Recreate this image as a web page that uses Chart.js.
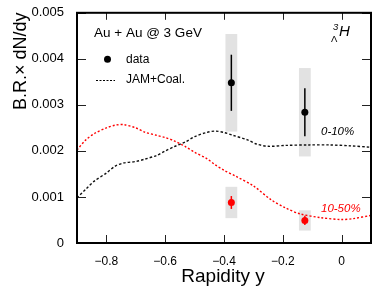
<!DOCTYPE html>
<html>
<head>
<meta charset="utf-8">
<script src="https://cdn.jsdelivr.net/npm/chart.js@4.4.1/dist/chart.umd.min.js"></script>
<style>
  html, body { margin: 0; padding: 0; background: #fff; }
  canvas { display: block; }
</style>
</head>
<body>
<canvas id="chart" width="382" height="297"></canvas>
<script>
const xTicks = [-0.8, -0.6, -0.4, -0.2, 0];
const yTicks = [0, 0.001, 0.002, 0.003, 0.004, 0.005];

// data points (two rapidity bins)
const dataY = [-0.375, -0.125];
const central = [0.00348, 0.00284];
const centralStat = [0.00061, 0.00052];
const centralSys = [0.00106, 0.00096];
const midCent = [0.00088, 0.00049];
const midStat = [0.00014, 0.0001];
const midSys = [0.00034, 0.00022];

// JAM+Coal. curves
const modelX0 = [-0.9, -0.87, -0.84, -0.8, -0.77, -0.74, -0.7, -0.67, -0.63, -0.6, -0.57, -0.53, -0.5,
  -0.46, -0.43, -0.4, -0.37, -0.32, -0.29, -0.25, -0.19, -0.11, -0.04, 0.03, 0.1];
const model0_10 = [0.00098, 0.00117, 0.00135, 0.00152, 0.00167, 0.00174, 0.00177, 0.00182, 0.0019, 0.002,
  0.00209, 0.0022, 0.00231, 0.0024, 0.00243, 0.0024, 0.00234, 0.00224, 0.00215, 0.0021, 0.00212, 0.00213,
  0.00213, 0.00211, 0.00208];
const modelX1 = [-0.9, -0.87, -0.84, -0.8, -0.77, -0.74, -0.7, -0.67, -0.63, -0.6, -0.57, -0.53, -0.5,
  -0.46, -0.43, -0.4, -0.36, -0.3, -0.24, -0.19, -0.14, -0.07, 0, 0.04, 0.1];
const model10_50 = [0.00202, 0.00224, 0.00238, 0.0025, 0.00256, 0.00257, 0.0025, 0.00241, 0.00234, 0.00229,
  0.00222, 0.00209, 0.00197, 0.00184, 0.0017, 0.00158, 0.00145, 0.00124, 0.00094, 0.00076, 0.00063, 0.00055,
  0.00051, 0.00053, 0.0006];

const FONT = "'Liberation Sans', Arial, Helvetica, sans-serif";
const pts = (xs, ys) => xs.map((x, i) => ({ x: x, y: ys[i] }));

const decor = {
  id: "decor",
  beforeDatasetsDraw(chart) {
    const { ctx, scales: { x, y } } = chart;
    ctx.save();
    // systematic boxes
    ctx.fillStyle = "#e2e2e2";
    const boxes = (vals, sys) => vals.forEach((v, i) => {
      const l = x.getPixelForValue(dataY[i] - 0.02), r = x.getPixelForValue(dataY[i] + 0.02);
      const t = y.getPixelForValue(v + sys[i]), b = y.getPixelForValue(v - sys[i]);
      ctx.fillRect(l, t, r - l, b - t);
    });
    boxes(central, centralSys);
    boxes(midCent, midSys);
    // stat error bars
    const bars = (vals, err, col) => {
      ctx.strokeStyle = col;
      ctx.lineWidth = 1.5;
      vals.forEach((v, i) => {
        const px = x.getPixelForValue(dataY[i]);
        ctx.beginPath();
        ctx.moveTo(px, y.getPixelForValue(v + err[i]));
        ctx.lineTo(px, y.getPixelForValue(v - err[i]));
        ctx.stroke();
      });
    };
    bars(central, centralStat, "#000");
    bars(midCent, midStat, "#f00");
    ctx.restore();
  },
  afterDraw(chart) {
    const { ctx, chartArea: a, scales: { x, y } } = chart;
    ctx.save();
    // ticks pointing inwards
    ctx.strokeStyle = "#222";
    ctx.lineWidth = 1;
    yTicks.forEach(v => {
      const py = Math.round(y.getPixelForValue(v)) + 0.5;
      ctx.beginPath();
      ctx.moveTo(a.left, py); ctx.lineTo(a.left + 9, py);
      ctx.moveTo(a.right, py); ctx.lineTo(a.right - 9, py);
      ctx.stroke();
    });
    xTicks.forEach(v => {
      const px = Math.round(x.getPixelForValue(v)) + 0.5;
      ctx.beginPath();
      ctx.moveTo(px, a.bottom); ctx.lineTo(px, a.bottom - 8);
      ctx.moveTo(px, a.top); ctx.lineTo(px, a.top + 7);
      ctx.stroke();
    });
    // frame
    ctx.strokeStyle = "#000";
    ctx.lineWidth = 2;
    ctx.strokeRect(a.left, a.top, a.right - a.left, a.bottom - a.top);

    // axis titles
    ctx.fillStyle = "#000";
    ctx.font = "19px " + FONT;
    ctx.textAlign = "center";
    ctx.textBaseline = "alphabetic";
    ctx.fillText("Rapidity y", 223, 282);
    ctx.save();
    ctx.translate(26, 110);
    ctx.rotate(-Math.PI / 2);
    ctx.textAlign = "left";
    ctx.font = "18px " + FONT;
    ctx.fillText("B.R.\u00d7 dN/dy", 0, 0);
    ctx.restore();

    // legend & labels
    ctx.textAlign = "left";
    ctx.font = "13.5px " + FONT;
    ctx.fillText("Au + Au @ 3 GeV", 94, 37);
    ctx.font = "12px " + FONT;
    ctx.fillText("data", 126, 63);
    ctx.fillText("JAM+Coal.", 126, 83);
    ctx.beginPath();
    ctx.arc(107.5, 59.3, 3.5, 0, Math.PI * 2);
    ctx.fill();
    ctx.setLineDash([2, 1.5]);
    ctx.lineWidth = 1;
    ctx.beginPath();
    ctx.moveTo(96, 80.5); ctx.lineTo(115, 80.5);
    ctx.stroke();
    ctx.setLineDash([]);

    ctx.font = "italic 11.5px " + FONT;
    ctx.fillText("0-10%", 321, 135);
    ctx.fillStyle = "#f00";
    ctx.fillText("10-50%", 321, 212);

    ctx.fillStyle = "#000";
    ctx.font = "italic 15px " + FONT;
    ctx.fillText("H", 339, 36);
    ctx.font = "italic 9.5px " + FONT;
    ctx.fillText("3", 333, 30);
    ctx.font = "9.5px " + FONT;
    ctx.fillText("\u039b", 331, 42);
    ctx.restore();
  }
};

new Chart(document.getElementById("chart"), {
  type: "scatter",
  data: {
    datasets: [
      {
        label: "0-10% model",
        data: pts(modelX0, model0_10),
        showLine: true,
        borderColor: "#111",
        borderWidth: 1.4,
        borderDash: [2.5, 2],
        pointRadius: 0,
        tension: 0.3
      },
      {
        label: "10-50% model",
        data: pts(modelX1, model10_50),
        showLine: true,
        borderColor: "#f00",
        borderWidth: 1.4,
        borderDash: [2, 2],
        pointRadius: 0,
        tension: 0.3
      },
      {
        label: "0-10% data",
        data: pts(dataY, central),
        backgroundColor: "#000",
        borderColor: "#000",
        pointRadius: 3.5,
        borderWidth: 0
      },
      {
        label: "10-50% data",
        data: pts(dataY, midCent),
        backgroundColor: "#f00",
        borderColor: "#f00",
        pointRadius: 3.5,
        borderWidth: 0
      }
    ]
  },
  options: {
    responsive: false,
    animation: false,
    devicePixelRatio: 1,
    layout: { padding: { left: 0, top: 9, right: 11, bottom: 0 } },
    plugins: { legend: { display: false }, tooltip: { enabled: false } },
    scales: {
      x: {
        type: "linear",
        min: -0.9,
        max: 0.1,
        grid: { display: false },
        border: { display: false },
        afterBuildTicks: s => { s.ticks = xTicks.map(v => ({ value: v })); },
        afterFit: s => { s.height = 54; },
        ticks: {
          padding: 3,
          color: "#000",
          font: { family: FONT, size: 12 },
          callback: v => v === 0 ? "0" : (v < 0 ? "\u2212" : "") + Math.abs(v).toFixed(1)
        }
      },
      y: {
        type: "linear",
        min: 0,
        max: 0.005,
        grid: { display: false },
        border: { display: false },
        afterBuildTicks: s => { s.ticks = yTicks.map(v => ({ value: v })); },
        afterFit: s => { s.width = 77; },
        ticks: {
          padding: 5,
          color: "#000",
          font: { family: FONT, size: 13 },
          callback: v => v === 0 ? "0" : v.toFixed(3)
        }
      }
    }
  },
  plugins: [decor]
});
</script>
</body>
</html>
